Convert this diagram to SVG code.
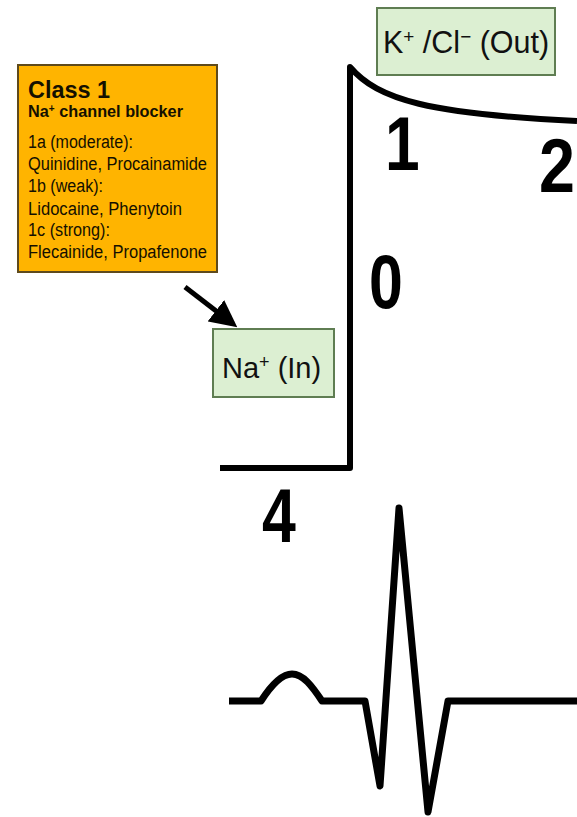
<svg xmlns="http://www.w3.org/2000/svg" width="577" height="817" viewBox="0 0 577 817">
  <style>
    .trace { fill: none; stroke: #000; stroke-linejoin: round; stroke-linecap: butt; }
    .ion { fill: #dcefd2; stroke: #5f7d52; stroke-width: 2; }
    .ionText { font-family: "Liberation Sans", Arial, sans-serif; fill: #111; }
    .phase { font-family: "Liberation Sans", Arial, sans-serif; font-weight: bold; font-size: 76px; fill: #000; }
    .drug { font-family: "Liberation Sans", Arial, sans-serif; font-size: 18px; fill: #141000; }
    .head { font-family: "Liberation Sans", Arial, sans-serif; font-weight: bold; fill: #141000; }
    .sup { font-size: 62%; }
  </style>
  <defs>
    <marker id="arrowHead" viewBox="0 0 10 10" refX="8" refY="5" markerWidth="5.4" markerHeight="5.4" orient="auto" markerUnits="strokeWidth">
      <path d="M0,0 L10,5 L0,10 z" fill="#000"/>
    </marker>
  </defs>
  <rect width="577" height="817" fill="#fff"/>

  <!-- action potential trace -->
  <g id="action-potential">
    <path class="trace" stroke-width="6" d="M220,468 L350,468 L350,67 C378,100 430,114 577,121"/>
  </g>

  <!-- phase numbers -->
  <g id="phase-labels">
    <text class="phase" transform="translate(385,170) scale(0.82,1)">1</text>
    <text class="phase" transform="translate(539,192) scale(0.85,1)">2</text>
    <text class="phase" transform="translate(369,308) scale(0.8,1)">0</text>
    <text class="phase" transform="translate(262,542) scale(0.8,1)">4</text>
  </g>

  <!-- ECG trace -->
  <g id="ecg">
    <path class="trace" stroke-width="7" d="M229,701 L261,701 C272,684 282,674 292,674 C303,674 312,686 322,701 L365,701 L380,786 L399,508 L428,812 L448,701 L577,701"/>
  </g>

  <!-- Class 1 drug box -->
  <g id="class1">
    <rect x="18" y="65" width="199" height="207" fill="#ffb400" stroke="#5e4a1c" stroke-width="2"/>
    <text class="head" x="28" y="98" font-size="24.5" textLength="82" lengthAdjust="spacingAndGlyphs">Class 1</text>
    <text class="head" x="28" y="117" font-size="16.5" textLength="155" lengthAdjust="spacingAndGlyphs">Na<tspan class="sup" baseline-shift="super">+</tspan> channel blocker</text>
    <text class="drug" x="28" y="148" textLength="105" lengthAdjust="spacingAndGlyphs">1a (moderate):</text>
    <text class="drug" x="28" y="170" textLength="179" lengthAdjust="spacingAndGlyphs">Quinidine, Procainamide</text>
    <text class="drug" x="28" y="192" textLength="75" lengthAdjust="spacingAndGlyphs">1b (weak):</text>
    <text class="drug" x="28" y="215" textLength="154" lengthAdjust="spacingAndGlyphs">Lidocaine, Phenytoin</text>
    <text class="drug" x="28" y="236" textLength="82" lengthAdjust="spacingAndGlyphs">1c (strong):</text>
    <text class="drug" x="28" y="258" textLength="179" lengthAdjust="spacingAndGlyphs">Flecainide, Propafenone</text>
  </g>

  <!-- Outward current box -->
  <g id="k-cl-out">
    <rect class="ion" x="377" y="8" width="178" height="67"/>
    <text class="ionText" x="383" y="53" font-size="30.5">K<tspan class="sup" baseline-shift="super">+</tspan> /Cl<tspan class="sup" baseline-shift="super">−</tspan> (Out)</text>
  </g>

  <!-- Inward current box -->
  <g id="na-in">
    <rect class="ion" x="213" y="329" width="121" height="68"/>
    <text class="ionText" x="222" y="378" font-size="29">Na<tspan class="sup" baseline-shift="super">+</tspan> (In)</text>
  </g>

  <!-- connector -->
  <g id="connectors">
    <line x1="185" y1="287" x2="233" y2="324" stroke="#000" stroke-width="5" marker-end="url(#arrowHead)"/>
  </g>
</svg>
